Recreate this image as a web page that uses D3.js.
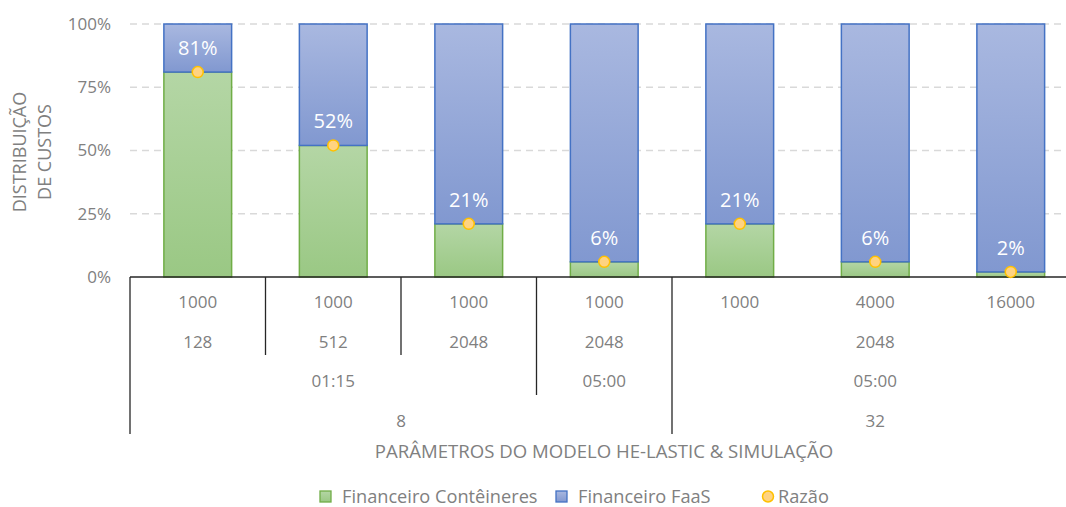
<!DOCTYPE html>
<html><head><meta charset="utf-8">
<script src="https://cdn.jsdelivr.net/npm/d3@7"></script>
<style>body{margin:0;background:#fff}svg text{font-family:"Open Sans",sans-serif}</style>
</head><body>
<svg id="c" width="1066" height="507"></svg>
<script>
const categories = ["c1","c2","c3","c4","c5","c6","c7"];
const containerShare = [0.81,0.52,0.21,0.06,0.21,0.06,0.02];
const faasShare = [0.19,0.48,0.79,0.94,0.79,0.94,0.98];
const ratioValues = [0.81,0.52,0.21,0.06,0.21,0.06,0.02];
const ratioLabels = ["81%","52%","21%","6%","21%","6%","2%"];
const yTicks = [0,0.25,0.5,0.75,1];
// multi-level category labels: [label, firstIndex, lastIndex]
const level1 = [["1000",0,0],["1000",1,1],["1000",2,2],["1000",3,3],["1000",4,4],["4000",5,5],["16000",6,6]];
const level2 = [["128",0,0],["512",1,1],["2048",2,2],["2048",3,3],["2048",4,6]];
const level3 = [["01:15",0,2],["05:00",3,3],["05:00",4,6]];
const level4 = [["8",0,3],["32",4,6]];
const seriesNames = ["Financeiro Contêineres","Financeiro FaaS","Razão"];
const xTitle = "PARÂMETROS DO MODELO HE-LASTIC & SIMULAÇÃO";
const yTitle = ["DISTRIBUIÇÃO","DE CUSTOS"];

(function(){
const svg = d3.select("#c");
const L = 130, R = 1078.5, T = 24, B = 277;
const x = d3.scaleBand().domain(categories).range([L, R]).paddingInner(0).paddingOuter(0);
const y = d3.scaleLinear().domain([0,1]).range([B, T]);
const bw = x.bandwidth()*0.5;
const gray = "#808080";

const defs = svg.append("defs");
const gG = defs.append("linearGradient").attr("id","gG").attr("x1",0).attr("y1",0).attr("x2",0).attr("y2",1);
gG.append("stop").attr("offset","0%").attr("stop-color","#b4d6a5");
gG.append("stop").attr("offset","100%").attr("stop-color","#9ac884");
const gB = defs.append("linearGradient").attr("id","gB").attr("x1",0).attr("y1",0).attr("x2",0).attr("y2",1);
gB.append("stop").attr("offset","0%").attr("stop-color","#a9b8e0");
gB.append("stop").attr("offset","100%").attr("stop-color","#8198d0");

// grid
svg.append("g").selectAll("line").data(yTicks.filter(d=>d>0)).join("line")
  .attr("x1",L).attr("x2",1066).attr("y1",d=>y(d)).attr("y2",d=>y(d))
  .attr("stroke","#d9d9d9").attr("stroke-width",1.3).attr("stroke-dasharray","7,5");

// y tick labels
svg.append("g").selectAll("text").data(yTicks).join("text")
  .attr("x",111).attr("y",d=>y(d)).attr("dy","0.35em").attr("text-anchor","end")
  .attr("font-size",17).attr("fill",gray).text(d3.format(".0%"));

// y title
const yt = svg.append("text").attr("transform","translate(0,152) rotate(-90)").attr("text-anchor","middle")
  .attr("font-size",18).attr("fill",gray);
yTitle.forEach((t,i)=>yt.append("tspan").attr("x",0).attr("y",26+i*25).text(t));

// bars
const g = svg.append("g");
g.selectAll(".gb").data(categories).join("rect")
  .attr("x",d=>x(d)+x.bandwidth()/2-bw/2).attr("width",bw)
  .attr("y",(d,i)=>y(containerShare[i])).attr("height",(d,i)=>y(0)-y(containerShare[i]))
  .attr("fill","url(#gG)").attr("stroke","#70ad47").attr("stroke-width",1.5);
g.selectAll(".bb").data(categories).join("rect")
  .attr("x",d=>x(d)+x.bandwidth()/2-bw/2).attr("width",bw)
  .attr("y",(d,i)=>y(containerShare[i]+faasShare[i])).attr("height",(d,i)=>y(containerShare[i])-y(containerShare[i]+faasShare[i]))
  .attr("fill","url(#gB)").attr("stroke","#4472c4").attr("stroke-width",1.5);

// axis line
svg.append("line").attr("x1",L).attr("x2",1066).attr("y1",B).attr("y2",B).attr("stroke","#262626").attr("stroke-width",1.5);

// points + labels
svg.append("g").selectAll("circle").data(categories).join("circle")
  .attr("cx",d=>x(d)+x.bandwidth()/2).attr("cy",(d,i)=>y(ratioValues[i])).attr("r",5.5)
  .attr("fill","#ffd381").attr("stroke","#ffc000").attr("stroke-width",1.5);
svg.append("g").selectAll("text").data(categories).join("text")
  .attr("x",d=>x(d)+x.bandwidth()/2).attr("y",(d,i)=>y(ratioValues[i])-24).attr("dy","0.35em")
  .attr("text-anchor","middle").attr("font-size",20).attr("fill","#fff").text((d,i)=>ratioLabels[i]);

// multi-level labels
const rowY = [302,342,381,421];
const levels = [level1,level2,level3,level4];
levels.forEach((lv,r)=>{
  svg.append("g").selectAll("text").data(lv).join("text")
    .attr("x",d=>(x(categories[d[1]])+x(categories[d[2]])+x.bandwidth())/2)
    .attr("y",rowY[r]).attr("dy","0.35em").attr("text-anchor","middle")
    .attr("font-size",17).attr("fill",gray).text(d=>d[0]);
});
const rowBottom = [315,355,395,434];
function boundaryDepth(k){
  for(let r=levels.length-1;r>=0;r--){
    if(levels[r].some(d=>d[1]===k)) return r;
  }
  return -1;
}
const seps = [{xv:L, yb:rowBottom[3]}];
for(let k=1;k<categories.length;k++){
  const r = boundaryDepth(k);
  if(r>=1) seps.push({xv:x(categories[k]), yb:rowBottom[r]});
}
svg.append("g").selectAll("line").data(seps).join("line")
  .attr("x1",d=>d.xv).attr("x2",d=>d.xv).attr("y1",B).attr("y2",d=>d.yb)
  .attr("stroke","#262626").attr("stroke-width",1.3);

// x title
svg.append("text").attr("x",604).attr("y",451).attr("dy","0.35em").attr("text-anchor","middle")
  .attr("font-size",18.6).attr("fill",gray).text(xTitle);

// legend
const leg = svg.append("g");
const lx = [320,556,762];
leg.append("rect").attr("x",lx[0]).attr("y",491).attr("width",11).attr("height",11).attr("fill","url(#gG)").attr("stroke","#70ad47").attr("stroke-width",1.3);
leg.append("rect").attr("x",lx[1]).attr("y",491).attr("width",11).attr("height",11).attr("fill","url(#gB)").attr("stroke","#4472c4").attr("stroke-width",1.3);
leg.append("circle").attr("cx",lx[2]+6).attr("cy",496.5).attr("r",5.5).attr("fill","#ffd381").attr("stroke","#ffc000").attr("stroke-width",1.5);
seriesNames.forEach((n,i)=>leg.append("text").attr("x",lx[i]+(i===2?16:22)).attr("y",497).attr("dy","0.35em")
  .attr("font-size",18.2).attr("fill",gray).text(n));
})();
</script>
</body></html>
